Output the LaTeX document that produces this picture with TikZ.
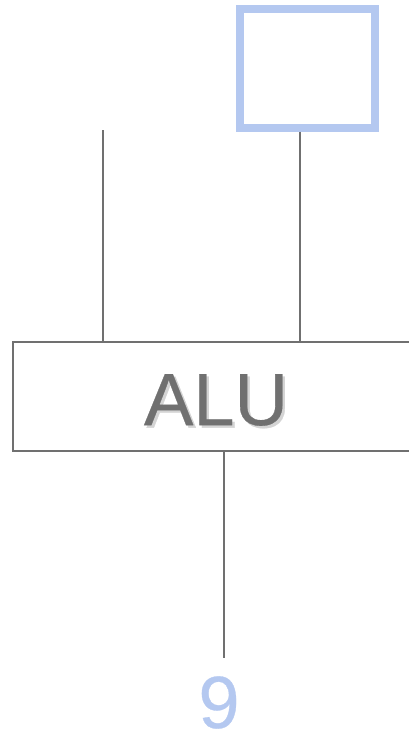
\documentclass[tikz,border=0pt]{standalone}
\usepackage{fontspec}
\setmainfont{Liberation Sans}
\newfontfamily\heavyfont{Liberation Sans}[FakeBold=0.4]
\usepackage{tikz}
\usetikzlibrary{positioning,calc}
\definecolor{wiregray}{HTML}{707070}
\definecolor{regblue}{HTML}{B4C8F0}
\definecolor{shadegray}{HTML}{D4D4D4}

\begin{document}
\begin{tikzpicture}[x=1pt,y=-1pt,
  wire/.style={draw=wiregray, line width=2pt},
  alubox/.style={rectangle, draw=wiregray, line width=2pt, fill=white,
                 minimum width=422pt, minimum height=109pt, inner sep=0pt},
  regbox/.style={rectangle, draw=regblue, line width=8pt,
                 minimum width=135pt, minimum height=119pt, inner sep=0pt},
  lbl/.style={font=\heavyfont\fontsize{74}{80}\selectfont, text=wiregray, inner sep=0pt},
  lblshade/.style={font=\heavyfont\fontsize{74}{80}\selectfont, text=shadegray, inner sep=0pt},
  res/.style={font=\heavyfont\fontsize{74}{80}\selectfont, text=regblue, inner sep=0pt}
]
\useasboundingbox (0,0) rectangle (409,732);
\node[regbox] (reg) at (307.5,68) {};
\node[alubox] (alu) at (224,396.5) {};
\node[lblshade] (alushade) at (218.5,402.5) {ALU};
\node[lbl] (alulbl) at (216,400) {ALU};
\node[res] (out) at (219,702.5) {9};
\coordinate (inA) at (103,130);
\coordinate (regout) at (300,0);
\coordinate (outin) at (224,658);
\draw[wire] (inA) -- (inA |- alu.north);
\draw[wire] (regout |- reg.south) -- (regout |- alu.north);
\draw[wire] (outin |- alu.south) -- (outin);
\end{tikzpicture}
\end{document}
